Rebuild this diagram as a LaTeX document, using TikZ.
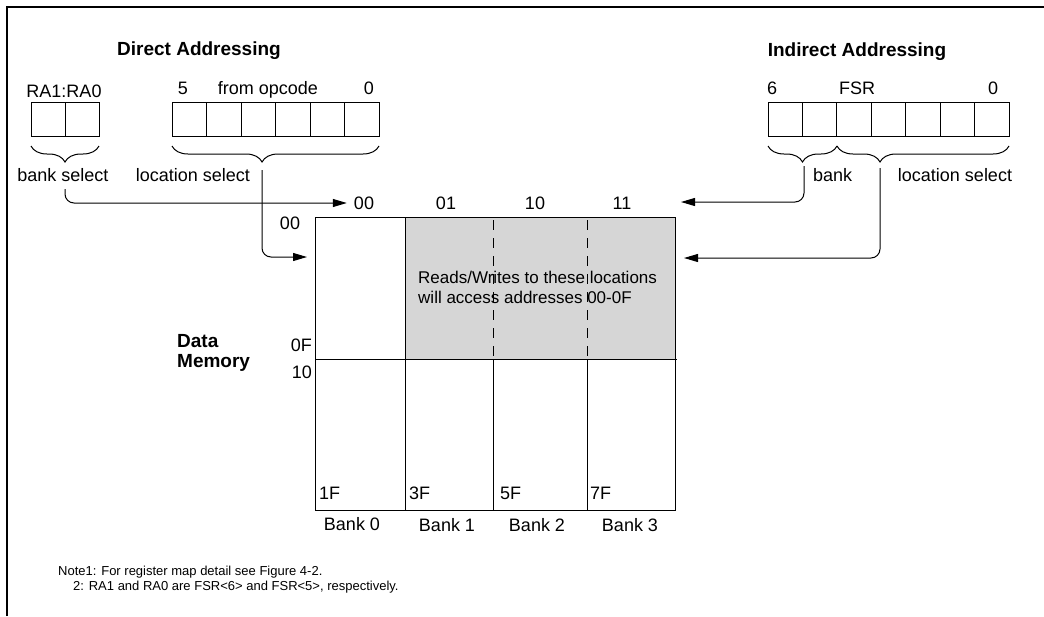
\documentclass[tikz,border=0pt]{standalone}
\usepackage{fontspec}
\setmainfont{Liberation Sans}
\usetikzlibrary{arrows.meta,decorations.pathreplacing}
\begin{document}
\begin{tikzpicture}[x=1pt,y=-1pt,
  lab/.style={font=\fontsize{18}{20}\selectfont, inner sep=0pt},
  blab/.style={font=\fontsize{18}{20}\selectfont, inner sep=0pt, anchor=base},
  ttl/.style={font=\fontsize{19}{21}\selectfont\bfseries, inner sep=0pt},
  shd/.style={font=\fontsize{17}{20}\selectfont, inner sep=0pt, anchor=west, align=left},
  note/.style={font=\fontsize{13}{15}\selectfont, inner sep=0pt, anchor=west},
  cell/.style={draw, line width=1pt, minimum height=34pt, inner sep=0pt, outer sep=0pt, anchor=north west},
  brc/.style={decorate, line width=1pt},
  conn/.style={line width=1pt, rounded corners=9pt, -{Triangle[length=14pt,width=8pt]}},
  gridln/.style={line width=1pt},
  dashln/.style={line width=1pt, dash pattern=on 10pt off 8pt}
]
\useasboundingbox (0,0) rectangle (1044,616);
% frame
\draw[line width=1.8pt] (7,616) -- (7,7) -- (1044,7);

% titles
\node[ttl] (tdir) at (199,51) {Direct Addressing};
\node[ttl] (tind) at (857,52) {Indirect Addressing};

% direct: RA1:RA0
\node[blab] (ralab) at (64,97) {RA1:RA0};
\node[cell, minimum width=34pt] (ra1) at (31,102) {};
\node[cell, minimum width=34pt] (ra0) at (65,102) {};

% direct: opcode
\node[blab] (op5) at (183,94) {5};
\node[blab] (opl) at (268,94) {from opcode};
\node[blab] (op0) at (369,94) {0};
\foreach \i in {0,...,5} {
  \node[cell, minimum width=34.5pt] (op\i) at ({172+34.5*\i},102) {};
}

% indirect: FSR
\node[blab] (f6) at (772,94) {6};
\node[blab] (fsrl) at (857,94) {FSR};
\node[blab] (f0) at (993,94) {0};
\foreach \i in {0,...,6} {
  \node[cell, minimum width=34.43pt] (fsr\i) at ({768+34.43*\i},102) {};
}

% braces
\draw[brc, decoration={brace, amplitude=16pt}] (99,146) -- (31,146);
\draw[brc, decoration={brace, amplitude=16pt, aspect=0.565}] (379,146) -- (172,146);
\draw[brc, decoration={brace, amplitude=16pt, aspect=0.5}] (837,146) -- (768,146);
\draw[brc, decoration={brace, amplitude=16pt, aspect=0.75}] (1009,146) -- (837,146);

% brace labels
\node[blab] (bsl) at (63,181) {bank select};
\node[blab] (lsl) at (193,181) {location select};
\node[blab, anchor=base west] (ibl) at (813,181) {bank};
\node[blab] (ill) at (955,181) {location select};

% memory map
\fill[black!16] (405,217) rectangle (675,359);
\node[shd] (rw) at (418,287) {Reads/Writes to these locations\\will access addresses 00-0F};
\draw[gridln] (315,217) rectangle (675,510);
\draw[gridln] (315,359) -- (677,359);
\draw[gridln] (405,217) -- (405,510);
\draw[gridln] (493,359) -- (493,510);
\draw[gridln] (587,359) -- (587,510);
\draw[dashln] (493,220) -- (493,359);
\draw[dashln] (587,220) -- (587,359);

% column labels
\node[lab] (c00) at (364,203) {00};
\node[lab] (c01) at (446,203) {01};
\node[lab] (c10) at (535,203) {10};
\node[lab] (c11) at (622,203) {11};

% row labels
\node[lab] (r00) at (290,223) {00};
\node[lab, anchor=east] (r0F) at (312,345) {0F};
\node[lab, anchor=east] (r10) at (312,372) {10};
\node[ttl, anchor=west, align=left, font=\fontsize{19}{20}\selectfont\bfseries] (dm) at (177,353) {Data\\Memory};

% end labels
\node[lab, anchor=west] (e1F) at (319,493) {1F};
\node[lab, anchor=west] (e3F) at (409,493) {3F};
\node[lab, anchor=west] (e5F) at (500,493) {5F};
\node[lab, anchor=west] (e7F) at (590,493) {7F};

% bank labels
\node[blab] (b0) at (352,530) {Bank 0};
\node[blab] (b1) at (447,531) {Bank 1};
\node[blab] (b2) at (537,531) {Bank 2};
\node[blab] (b3) at (630,531) {Bank 3};

% connectors
\coordinate (bsel) at (65,189);
\coordinate (lsel) at (262,170);
\coordinate (ibank) at (804,166);
\coordinate (iloc) at (880,168);
\coordinate (din) at (307,257);
\coordinate (ibin) at (681,202);
\coordinate (ilin) at (684,258);
\draw[conn] (bsel) |- ([xshift=-7pt]c00.west);
\draw[conn] (lsel) |- (din);
\draw[conn] (ibank) |- (ibin);
\draw[conn] (iloc) |- (ilin);

% notes
\node[note] (n1) at (58,572) {Note1: For register map detail see Figure 4-2.};
\node[note] (n2) at (73,587) {2: RA1 and RA0 are FSR<6> and FSR<5>, respectively.};
\end{tikzpicture}
\end{document}
